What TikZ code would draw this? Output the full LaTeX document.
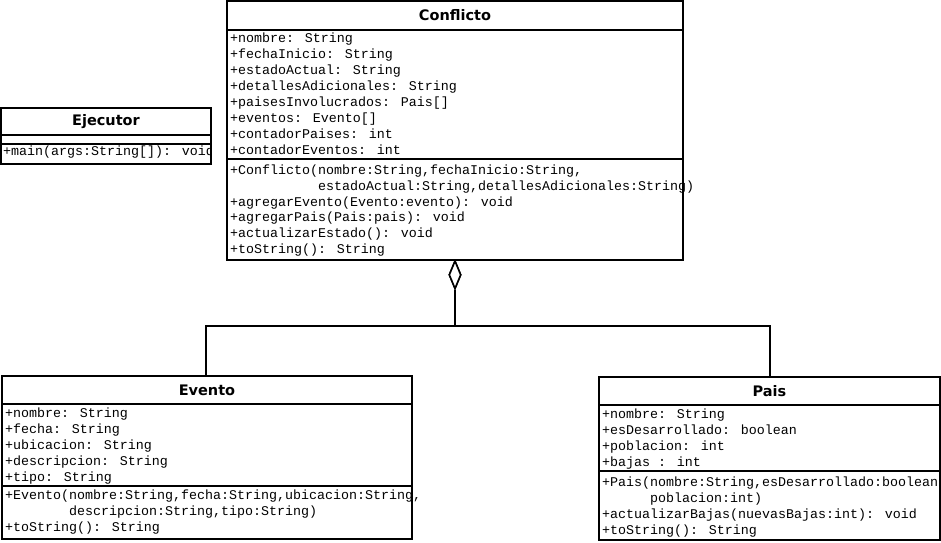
\documentclass[tikz,border=0pt]{standalone}
\usepackage{fontspec}
\usetikzlibrary{shapes.geometric}
\newfontfamily\umlmono{Liberation Mono}
\newfontfamily\umltitle{DejaVu Sans}
\begin{document}
\begin{tikzpicture}[x=1pt,y=-1pt,
  classbox/.style={draw, line width=2pt, rectangle, inner sep=0pt, outer sep=0pt, anchor=north west},
  sepline/.style={line width=2pt},
  member/.style={anchor=base west, inner sep=0pt, font=\umlmono\fontsize{13.33}{16}\selectfont},
  classname/.style={inner sep=0pt, font=\umltitle\bfseries\fontsize{14.5}{16}\selectfont},
  link/.style={line width=2pt},
  aggdiamond/.style={draw, shape=diamond, line width=1.6pt, fill=white, inner sep=0pt,
    minimum width=12pt, minimum height=28pt, anchor=north}]
\useasboundingbox (0,0) rectangle (941,542);

% ---------- Ejecutor ----------
\node[classbox, minimum width=210pt, minimum height=56pt] (ejec) at (1,108) {};
\begin{scope}
  \clip (ejec.north west) rectangle (ejec.south east);
  \node[member] (ejm1) at (3,155) {+main(args:String[]): void};
\end{scope}
\node[classbox, minimum width=210pt, minimum height=56pt] at (1,108) {};
\node[classname] (ejt) at (106,122) {Ejecutor};
\draw[sepline] (ejec.west |- 0,135) -- (ejec.east |- 0,135);
\draw[sepline] (ejec.west |- 0,143.5) -- (ejec.east |- 0,143.5);

% ---------- Conflicto ----------
\node[classbox, minimum width=456pt, minimum height=259pt] (conf) at (227,1) {};
\node[classname] (conft) at (455,15) {Conflicto};
\draw[sepline] (conf.west |- 0,29.5) -- (conf.east |- 0,29.5);
\draw[sepline] (conf.west |- 0,158.5) -- (conf.east |- 0,158.5);
\node[member] (ca1) at (230,42.8) {+nombre: String};
\node[member] (ca2) at (230,58.8) {+fechaInicio: String};
\node[member] (ca3) at (230,74.8) {+estadoActual: String};
\node[member] (ca4) at (230,90.8) {+detallesAdicionales: String};
\node[member] (ca5) at (230,106.8) {+paisesInvolucrados: Pais[]};
\node[member] (ca6) at (230,122.8) {+eventos: Evento[]};
\node[member] (ca7) at (230,138.8) {+contadorPaises: int};
\node[member] (ca8) at (230,154.8) {+contadorEventos: int};
\node[member] (cm1) at (230,174.5) {+Conflicto(nombre:String,fechaInicio:String,};
\node[member] (cm2) at (230,190.3) {\hspace*{88pt}estadoActual:String,detallesAdicionales:String)};
\node[member] (cm3) at (230,206.1) {+agregarEvento(Evento:evento): void};
\node[member] (cm4) at (230,221.9) {+agregarPais(Pais:pais): void};
\node[member] (cm5) at (230,237.7) {+actualizarEstado(): void};
\node[member] (cm6) at (230,253.5) {+toString(): String};

% ---------- Evento ----------
\node[classbox, minimum width=410pt, minimum height=163pt] (evento) at (2,376) {};
\node[classname] (evt) at (207,390) {Evento};
\draw[sepline] (evento.west |- 0,403.5) -- (evento.east |- 0,403.5);
\draw[sepline] (evento.west |- 0,486) -- (evento.east |- 0,486);
\node[member] (ea1) at (5,417.2) {+nombre: String};
\node[member] (ea2) at (5,433.2) {+fecha: String};
\node[member] (ea3) at (5,449.2) {+ubicacion: String};
\node[member] (ea4) at (5,465.2) {+descripcion: String};
\node[member] (ea5) at (5,481.2) {+tipo: String};
\node[member] (em1) at (5,499.5) {+Evento(nombre:String,fecha:String,ubicacion:String,};
\node[member] (em2) at (5,515.3) {\hspace*{64pt}descripcion:String,tipo:String)};
\node[member] (em3) at (5,531.1) {+toString(): String};

% ---------- Pais ----------
\node[classbox, minimum width=341pt, minimum height=163pt] (pais) at (599,377) {};
\node[classname] (pat) at (769.5,391) {Pais};
\draw[sepline] (pais.west |- 0,405) -- (pais.east |- 0,405);
\draw[sepline] (pais.west |- 0,471) -- (pais.east |- 0,471);
\node[member] (pa1) at (602,418.8) {+nombre: String};
\node[member] (pa2) at (602,434.8) {+esDesarrollado: boolean};
\node[member] (pa3) at (602,450.8) {+poblacion: int};
\node[member] (pa4) at (602,466.8) {+bajas : int};
\node[member] (pm1) at (602,486) {+Pais(nombre:String,esDesarrollado:boolean};
\node[member] (pm2) at (602,502) {\hspace*{48pt}poblacion:int)};
\node[member] (pm3) at (602,518) {+actualizarBajas(nuevasBajas:int): void};
\node[member] (pm4) at (602,534) {+toString(): String};

% ---------- aggregation: Conflicto <>-- Evento, Pais ----------
\node[aggdiamond] (agg) at (conf.south) {};
\coordinate (junc) at (455,325.5);
\draw[link] (agg.south) -- (junc);
\draw[link] ([xshift=-1pt]evento.north) |- (junc) -| ([xshift=0.5pt]pais.north);
\node[aggdiamond] at (conf.south) {};
\end{tikzpicture}
\end{document}
